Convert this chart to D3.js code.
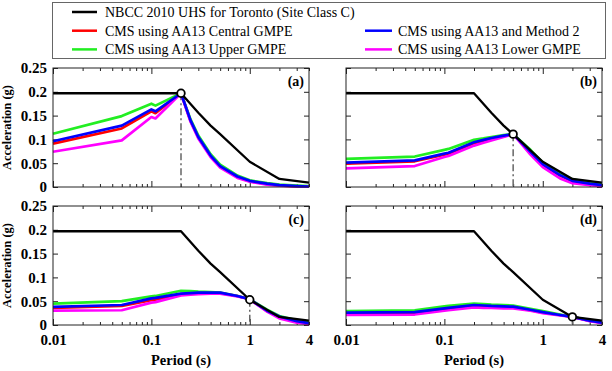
<!DOCTYPE html>
<html>
<head>
<meta charset="utf-8">
<script src="https://cdn.jsdelivr.net/npm/d3@7"></script>
<style>
  body { margin: 0; background: #fff; }
  .tick line { stroke: #222; }
</style>
</head>
<body>
<div id="chart"></div>
<script>
// periods used by the CMS curves
var periods = [0.01, 0.05, 0.1, 0.11, 0.2, 0.25, 0.3, 0.4, 0.5, 0.75, 1, 1.5, 2, 3, 4];

// NBCC 2010 UHS for Toronto
var uhsPeriods = [0.01, 0.2, 0.3, 0.4, 0.5, 1, 2, 4];
var uhsValues  = [0.197, 0.197, 0.156, 0.129, 0.111, 0.053, 0.017, 0.009];

// conditioning periods for panels a-d
var panelNames = ['(a)', '(b)', '(c)', '(d)'];
var condPeriods = [0.2, 0.5, 1, 2];

var seriesNames = ['CMS using AA13 Central GMPE', 'CMS using AA13 Upper GMPE',
                   'CMS using AA13 Lower GMPE', 'CMS using AA13 and Method 2'];

// panel (a), T* = 0.2 s
var centralA = [0.091, 0.123, 0.159, 0.155, 0.197, 0.139, 0.104, 0.065, 0.043, 0.021, 0.012, 0.006, 0.0035, 0.0015, 0.001];
var upperA   = [0.112, 0.149, 0.175, 0.171, 0.197, 0.142, 0.108, 0.069, 0.047, 0.024, 0.014, 0.008, 0.005, 0.003, 0.002];
var lowerA   = [0.074, 0.098, 0.147, 0.144, 0.197, 0.137, 0.102, 0.063, 0.041, 0.019, 0.011, 0.005, 0.003, 0.001, 0.0005];
var method2A = [0.096, 0.129, 0.163, 0.159, 0.197, 0.140, 0.105, 0.066, 0.044, 0.022, 0.013, 0.007, 0.004, 0.002, 0.001];

// panel (b), T* = 0.5 s
var centralB = [0.049, 0.054, 0.068, 0.070, 0.092, 0.097, 0.101, 0.107, 0.111, 0.073, 0.047, 0.024, 0.012, 0.006, 0.003];
var upperB   = [0.059, 0.064, 0.078, 0.080, 0.099, 0.102, 0.105, 0.109, 0.111, 0.078, 0.051, 0.029, 0.016, 0.010, 0.007];
var lowerB   = [0.039, 0.044, 0.063, 0.065, 0.087, 0.093, 0.098, 0.105, 0.111, 0.068, 0.042, 0.018, 0.008, 0.004, 0.002];
var method2B = [0.051, 0.056, 0.070, 0.072, 0.094, 0.099, 0.103, 0.108, 0.111, 0.074, 0.048, 0.025, 0.013, 0.007, 0.004];

// panel (c), T* = 1 s
var centralC = [0.036, 0.040, 0.052, 0.053, 0.065, 0.066, 0.067, 0.067, 0.067, 0.061, 0.054, 0.029, 0.016, 0.007, 0.003];
var upperC   = [0.045, 0.050, 0.060, 0.061, 0.072, 0.071, 0.070, 0.069, 0.068, 0.061, 0.054, 0.032, 0.019, 0.010, 0.007];
var lowerC   = [0.030, 0.031, 0.047, 0.048, 0.062, 0.064, 0.065, 0.066, 0.066, 0.060, 0.054, 0.028, 0.014, 0.005, 0.002];
var method2C = [0.038, 0.042, 0.056, 0.057, 0.066, 0.067, 0.068, 0.068, 0.068, 0.061, 0.054, 0.030, 0.018, 0.008, 0.004];

// panel (d), T* = 2 s
var centralD = [0.024, 0.025, 0.033, 0.034, 0.040, 0.039, 0.038, 0.037, 0.037, 0.031, 0.026, 0.021, 0.017, 0.009, 0.005];
var upperD   = [0.029, 0.031, 0.039, 0.040, 0.045, 0.044, 0.043, 0.042, 0.041, 0.034, 0.029, 0.022, 0.017, 0.010, 0.006];
var lowerD   = [0.021, 0.022, 0.030, 0.031, 0.037, 0.036, 0.036, 0.035, 0.035, 0.030, 0.025, 0.020, 0.017, 0.008, 0.004];
var method2D = [0.026, 0.027, 0.035, 0.036, 0.042, 0.041, 0.040, 0.039, 0.0385, 0.032, 0.027, 0.021, 0.017, 0.009, 0.005];

var yTicks = [0, 0.05, 0.1, 0.15, 0.2, 0.25];
var xLabelTicks = [0.01, 0.1, 1, 4];

var svgW = 612, svgH = 371;
var pw = 256, ph = 119;
var panelPos = [[53, 68], [346, 68], [53, 206], [346, 206]];
var serif = 'Liberation Serif, serif';

// draw order: central, upper, lower, method 2 on top
var colors = ['#ff0000', '#22ee22', '#ff00ff', '#0000ff'];
var panelData = [
    [centralA, upperA, lowerA, method2A],
    [centralB, upperB, lowerB, method2B],
    [centralC, upperC, lowerC, method2C],
    [centralD, upperD, lowerD, method2D]
];

var svg = d3.select('#chart').append('svg')
    .attr('width', svgW).attr('height', svgH);

var x = d3.scaleLog().domain([0.01, 4]).range([0, pw]);
var y = d3.scaleLinear().domain([0, 0.25]).range([ph, 0]);
var line = d3.line().x(d => x(d[0])).y(d => y(d[1]));

var minorTicks = x.ticks().filter(t => [0.01, 0.1, 1].indexOf(t) < 0);
var uhs = uhsPeriods.map((p, i) => [p, uhsValues[i]]);

panelPos.forEach(function(pos, k) {
    var g = svg.append('g').attr('transform', 'translate(' + pos[0] + ',' + pos[1] + ')');

    // inward ticks on all four sides
    g.append('g').attr('transform', 'translate(0,' + ph + ')')
        .call(d3.axisBottom(x).tickValues(minorTicks).tickSize(-3).tickFormat(''));
    g.append('g').attr('transform', 'translate(0,' + ph + ')')
        .call(d3.axisBottom(x).tickValues([0.01, 0.1, 1]).tickSize(-6).tickFormat(''));
    g.append('g')
        .call(d3.axisTop(x).tickValues(minorTicks).tickSize(-3).tickFormat(''));
    g.append('g')
        .call(d3.axisTop(x).tickValues([0.01, 0.1, 1]).tickSize(-6).tickFormat(''));
    g.append('g')
        .call(d3.axisLeft(y).tickValues(yTicks).tickSize(-5).tickFormat(''));
    g.append('g').attr('transform', 'translate(' + pw + ',0)')
        .call(d3.axisRight(y).tickValues(yTicks).tickSize(-5).tickFormat(''));

    if (k % 2 == 0) {
        g.append('g')
            .call(d3.axisLeft(y).tickValues(yTicks).tickSize(0).tickPadding(6)
                  .tickFormat(d => String(+d.toFixed(2))));
        g.append('text')
            .attr('transform', 'translate(' + (-42) + ',' + (ph / 2) + ') rotate(-90)')
            .attr('text-anchor', 'middle')
            .attr('font-family', serif).attr('font-size', 12.5).attr('font-weight', 'bold')
            .text('Acceleration (g)');
    }
    if (k >= 2) {
        g.append('g').attr('transform', 'translate(0,' + ph + ')')
            .call(d3.axisBottom(x).tickValues(xLabelTicks).tickSize(0).tickPadding(9)
                  .tickFormat(d => String(d)));
        g.append('text')
            .attr('x', pw / 2).attr('y', ph + 40)
            .attr('text-anchor', 'middle')
            .attr('font-family', serif).attr('font-size', 14.5).attr('font-weight', 'bold')
            .text('Period (s)');
    }
    g.selectAll('.domain').remove();
    g.selectAll('g').attr('font-family', serif).attr('font-size', 15);
    g.selectAll('.tick text').attr('font-weight', 'bold').attr('fill', '#000');

    // conditioning period marker line
    var tc = condPeriods[k];
    var ci = uhsPeriods.indexOf(tc);
    var saT = ci >= 0 ? uhsValues[ci] : null;
    if (saT == null) {
        var j = d3.bisectLeft(uhsPeriods, tc);
        var t = Math.log(tc / uhsPeriods[j - 1]) / Math.log(uhsPeriods[j] / uhsPeriods[j - 1]);
        saT = uhsValues[j - 1] + t * (uhsValues[j] - uhsValues[j - 1]);
    }
    g.append('line')
        .attr('x1', x(tc)).attr('x2', x(tc))
        .attr('y1', y(saT)).attr('y2', y(0))
        .attr('stroke', '#666').attr('stroke-width', 1.5)
        .attr('stroke-dasharray', '7,3,2,3');

    panelData[k].forEach(function(vals, s) {
        g.append('path')
            .datum(periods.map((p, i) => [p, vals[i]]))
            .attr('d', line)
            .attr('fill', 'none')
            .attr('stroke', colors[s])
            .attr('stroke-width', 2.7)
            .attr('stroke-linejoin', 'round');
    });

    g.append('path')
        .datum(uhs)
        .attr('d', line)
        .attr('fill', 'none')
        .attr('stroke', '#000')
        .attr('stroke-width', 2.3)
        .attr('stroke-linejoin', 'round');

    g.append('circle')
        .attr('cx', x(tc)).attr('cy', y(saT)).attr('r', 3.8)
        .attr('fill', '#fff').attr('stroke', '#000').attr('stroke-width', 1.8);

    g.append('rect')
        .attr('width', pw).attr('height', ph)
        .attr('fill', 'none').attr('stroke', '#222').attr('stroke-width', 1);

    g.append('text')
        .attr('x', pw - 5).attr('y', 18)
        .attr('text-anchor', 'end')
        .attr('font-family', serif).attr('font-size', 14).attr('font-weight', 'bold')
        .text(panelNames[k]);
});

// Legend
var legendItems = [
    {name: 'NBCC 2010 UHS for Toronto (Site Class C)', color: '#000', col: 0, row: 0},
    {name: seriesNames[0], color: colors[0], col: 0, row: 1},
    {name: seriesNames[1], color: colors[1], col: 0, row: 2},
    {name: seriesNames[3], color: colors[3], col: 1, row: 1},
    {name: seriesNames[2], color: colors[2], col: 1, row: 2}
];
var legendCols = [72, 365];

svg.append('rect')
    .attr('x', 52.5).attr('y', 2.5).attr('width', 553).attr('height', 56)
    .attr('fill', '#fff').attr('stroke', '#666').attr('stroke-width', 1);

var legend = svg.selectAll('.legend')
    .data(legendItems)
    .enter().append('g')
    .attr('class', 'legend')
    .attr('transform', d => 'translate(' + legendCols[d.col] + ',' + (12 + d.row * 18.7) + ')');

legend.append('line')
    .attr('x1', 0).attr('x2', d => d.col == 0 ? 25 : 27)
    .attr('stroke', d => d.color).attr('stroke-width', 2.5);

legend.append('text')
    .attr('x', 33)
    .attr('dy', '0.35em')
    .attr('font-family', serif).attr('font-size', 14)
    .text(d => d.name);
</script>
</body>
</html>
